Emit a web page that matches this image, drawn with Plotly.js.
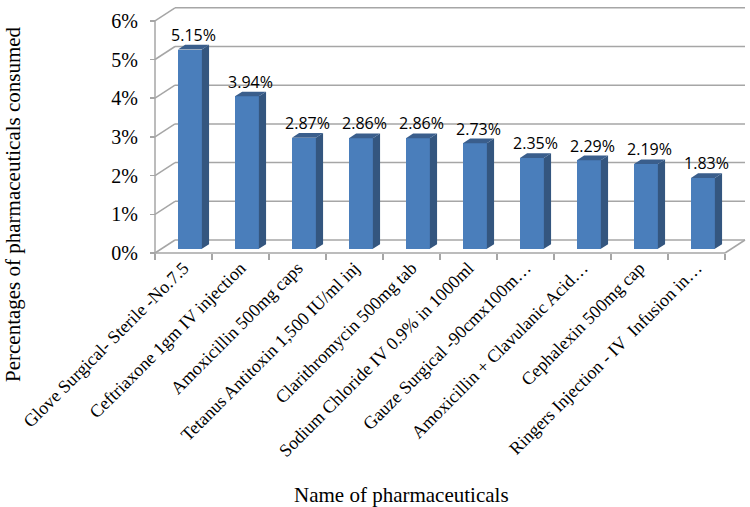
<!DOCTYPE html>
<html>
<head>
<meta charset="utf-8">
<script src="https://cdn.plot.ly/plotly-3.0.1.min.js"></script>
<style>
  html, body { margin: 0; padding: 0; background: #fff; }
  #chart { width: 750px; height: 507px; }
</style>
</head>
<body>
<div id="chart"></div>
<script>
// ---------- data ----------
const categories = [
  "Glove Surgical- Sterile -No.7.5",
  "Ceftriaxone 1gm IV injection",
  "Amoxicillin 500mg caps",
  "Tetanus Antitoxin 1,500 IU/ml inj",
  "Clarithromycin 500mg tab",
  "Sodium Chloride IV 0.9% in 1000ml",
  "Gauze Surgical -90cmx100m…",
  "Amoxicillin + Clavulanic Acid…",
  "Cephalexin 500mg cap",
  "Ringers Injection - IV  Infusion in…"
];
const values = [5.15, 3.94, 2.87, 2.86, 2.86, 2.73, 2.35, 2.29, 2.19, 1.83];
const valueLabels = ["5.15%", "3.94%", "2.87%", "2.86%", "2.86%", "2.73%", "2.35%", "2.29%", "2.19%", "1.83%"];
const yTickValues = [0, 1, 2, 3, 4, 5, 6];
const yTickLabels = ["0%", "1%", "2%", "3%", "4%", "5%", "6%"];
const xTitle = "Name of pharmaceuticals";
const yTitle = "Percentages of pharmaceuticals consumed";

// ---------- geometry (pixels / projection) ----------
const W = 750, H = 507;
const PX_CAT = 57, PX_PCT = 38.7;       // pixels per category, per percent
const FRONT_LEFT = 155, FRONT_ZERO = 253; // pixel position of front-left origin
const M = { l: 150, r: 3, t: 5, b: 250 };
const plotW = W - M.l - M.r, plotH = H - M.t - M.b;
const DX = 20 / PX_CAT, DY = 13 / PX_PCT;  // depth offset of back wall (data units)
const F0 = 0.32, FD = 0.36, BW = 0.42;    // bar front depth, bar depth, bar width
const N = categories.length;

const xr0 = -(FRONT_LEFT - M.l) / PX_CAT;
const xr1 = xr0 + plotW / PX_CAT;
const yr0 = -((H - M.b) - FRONT_ZERO) / PX_PCT;
const yr1 = yr0 + plotH / PX_PCT;
const pxX = px => (px - M.l) / plotW;
const pxY = py => ((H - M.b) - py) / plotH;

const GRID = '#a6a6a6';
const FRONT = '#4a7ebb', SIDE = '#34567f', TOP = '#3a5e8c';

// ---------- gridlines / walls ----------
const shapes = [];
const ln = (x0, y0, x1, y1) => shapes.push({
  type: 'line', xref: 'x', yref: 'y', x0, y0, x1, y1, layer: 'below',
  line: { color: GRID, width: 1.5 }
});
yTickValues.forEach(k => {
  ln(0, k, DX, k + DY);
  ln(DX, k + DY, N + DX, k + DY);
});
ln(0, 0, N, 0);
ln(N, 0, N + DX, DY);
ln(0, 0, 0, yTickValues[yTickValues.length - 1]);

// ---------- bars ----------
const xc = values.map((v, i) => i + 0.5 + F0 * DX);
const base = F0 * DY;
const front = {
  type: 'bar', x: xc, y: values, base: values.map(() => base), width: BW,
  marker: { color: FRONT, line: { width: 0 } }, hoverinfo: 'skip', showlegend: false
};
const sx = [], sy = [], tx = [], ty = [];
values.forEach((v, i) => {
  const xl = xc[i] - BW / 2, xr = xc[i] + BW / 2;
  const top = base + v;
  sx.push(xr, xr + FD * DX, xr + FD * DX, xr, xr, null);
  sy.push(base, base + FD * DY, top + FD * DY, top, base, null);
  tx.push(xl, xr, xr + FD * DX, xl + FD * DX, xl, null);
  ty.push(top, top, top + FD * DY, top + FD * DY, top, null);
});
const side = {
  type: 'scatter', mode: 'lines', x: sx, y: sy, fill: 'toself', fillcolor: SIDE,
  line: { width: 0, color: SIDE }, hoverinfo: 'skip', showlegend: false
};
const topFace = {
  type: 'scatter', mode: 'lines', x: tx, y: ty, fill: 'toself', fillcolor: TOP,
  line: { width: 0, color: TOP }, hoverinfo: 'skip', showlegend: false
};
const labels = {
  type: 'scatter', mode: 'text',
  x: xc.map(x => x + FD * DX / 2),
  y: values.map(v => base + v + FD * DY),
  text: valueLabels, textposition: 'top center',
  textfont: { family: 'Open Sans, Liberation Sans, sans-serif', size: 16, color: '#000' },
  hoverinfo: 'skip', showlegend: false, cliponaxis: false
};

const layout = {
  width: W, height: H,
  margin: M,
  paper_bgcolor: '#fff', plot_bgcolor: 'rgba(0,0,0,0)',
  showlegend: false,
  bargap: 0,
  xaxis: {
    range: [xr0, xr1], anchor: 'free', position: pxY(FRONT_ZERO),
    tickmode: 'array', tickvals: categories.map((c, i) => i + 0.5), ticktext: categories,
    tickangle: -45, ticks: '', showgrid: false, zeroline: false, showline: false,
    tickfont: { family: 'Liberation Serif, Times New Roman, serif', size: 18, color: '#000' },
    minor: { tickmode: 'array', tickvals: categories.map((c, i) => i).concat([N]),
             ticks: 'outside', ticklen: 6, tickcolor: GRID, tickwidth: 1.5, showgrid: false },
    fixedrange: true
  },
  yaxis: {
    range: [yr0, yr1], anchor: 'free', position: pxX(FRONT_LEFT),
    tickmode: 'array', tickvals: yTickValues, ticktext: yTickLabels,
    ticks: 'outside', ticklen: 5, tickcolor: GRID, tickwidth: 1.5,
    showgrid: false, zeroline: false, showline: false, ticklabelstandoff: 8,
    tickfont: { family: 'Liberation Serif, Times New Roman, serif', size: 20, color: '#000' },
    fixedrange: true
  },
  shapes: shapes,
  annotations: [
    { text: xTitle, xref: 'paper', yref: 'paper', x: pxX(401), y: pxY(495),
      xanchor: 'center', yanchor: 'middle', showarrow: false,
      font: { family: 'Liberation Serif, Times New Roman, serif', size: 21, color: '#000' } },
    { text: yTitle, xref: 'paper', yref: 'paper', x: pxX(13), y: pxY(204),
      xanchor: 'center', yanchor: 'middle', showarrow: false, textangle: -90,
      font: { family: 'Liberation Serif, Times New Roman, serif', size: 21, color: '#000' } }
  ]
};

Plotly.newPlot('chart', [front, side, topFace, labels], layout, { displayModeBar: false, staticPlot: true });
</script>
</body>
</html>
